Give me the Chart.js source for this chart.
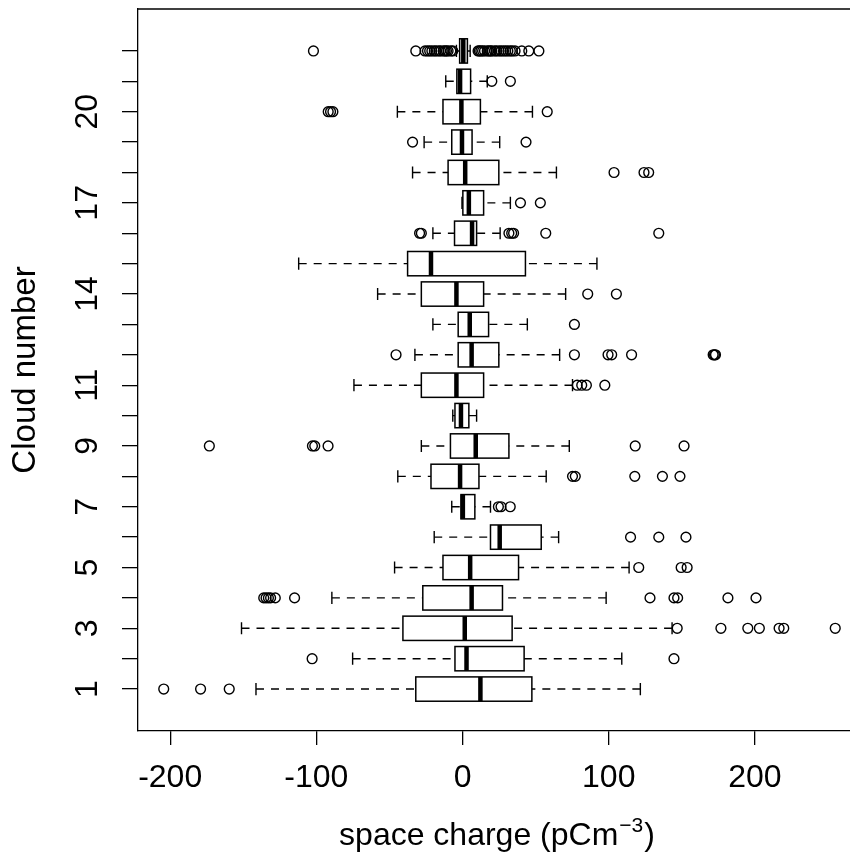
<!DOCTYPE html>
<html>
<head>
<meta charset="utf-8">
<script src="https://cdn.jsdelivr.net/npm/chart.js@4/dist/chart.umd.min.js"></script>
<style>html,body{margin:0;padding:0;background:#fff;}canvas{display:block;}</style>
</head>
<body>
<canvas id="c" width="850" height="861"></canvas>
<script>
// ---- data ----
const categories   = [1,2,3,4,5,6,7,8,9,10,11,12,13,14,15,16,17,18,19,20,21,22];
const labeledTicks = [1,3,5,7,9,11,14,17,20];
const xTickValues  = [-200,-100,0,100,200];
const lowerWhisker = [-141.3,-75.2,-151.2,-89.4,-46.5,-19.4,-7.4,-44.3,-28.2,-6.7,-74.3,-32.6,-20.3,-58.1,-112.1,-20.3,-0.4,-34.2,-26.3,-44.6,-11.5,-4.2];
const q1Values     = [-32.0,-5.2,-40.8,-27.2,-13.4,19.1,-1.1,-21.6,-8.3,-5.2,-28.2,-3.0,-3.0,-28.2,-37.6,-5.5,0.2,-9.9,-7.4,-13.4,-3.9,-2.0];
const medianValues = [12.2,2.7,1.5,6.2,5.2,25.4,0.2,-1.7,9.0,-1.1,-4.2,6.2,4.9,-4.2,-21.6,6.5,4.3,1.8,-0.4,-0.8,-1.7,0.5];
const q3Values     = [47.4,42.1,33.9,27.3,38.3,53.8,8.4,11.2,31.7,4.3,14.4,24.8,17.8,14.4,43.0,9.6,14.4,24.8,6.5,12.2,5.5,3.3];
const upperWhisker = [121.6,108.9,143.3,98.2,113.9,65.7,19.1,57.2,73.0,9.6,75.2,66.4,44.3,70.5,91.9,25.7,32.7,64.2,25.4,47.8,16.9,5.2];
const outliers = [
  [-204.4,-179.2,-159.6],
  [-102.9,144.6],
  [146.8,176.7,195.1,203.0,216.5,219.7,254.9],
  [-136.0,-134.4,-132.8,-131.3,-128.1,-114.9,128.2,144.6,147.1,181.5,200.7],
  [120.5,149.5,153.6],
  [114.9,134.2,152.8],
  [24.5,26.3,32.6],
  [75.2,77.1,117.8,136.7,148.7],
  [-173.2,-102.7,-101.1,-92.0,118.1,151.5],
  [],
  [78.4,81.5,84.7,97.3],
  [-45.5,76.5,99.5,102.0,115.6,171.4,172.3,173.0],
  [76.5],
  [85.6,105.2],
  [],
  [-29.4,-28.2,31.7,33.6,34.9,56.9,134.2],
  [39.6,53.2],
  [103.6,124.1,127.3],
  [-34.2,43.4],
  [-91.9,-90.3,-88.7,57.9],
  [20.0,32.7],
  [-102.0,-32.0,-25.7,-24.0,-22.5,-21.0,-19.3,-18.0,-16.2,-15.0,-13.1,-12.0,-11.0,-9.9,-8.0,-6.7,
   10.6,11.5,12.5,13.7,15.0,16.9,18.0,19.2,20.0,22.0,23.2,25.0,26.4,28.0,29.5,31.0,32.7,34.0,35.9,40.5,45.3,52.2]
];
const xTitleMain = 'space charge (pCm';
const xTitleSup  = '\u22123';
const xTitleEnd  = ')';
const yTitle     = 'Cloud number';

// ---- chart ----
const FONT = "'Liberation Sans', Arial, Helvetica, sans-serif";
const outlierPoints = [];
categories.forEach((c, i) => outliers[i].forEach(v => outlierPoints.push({x: v, y: c})));

const boxPlugin = {
  id: 'boxes',
  beforeDatasetsDraw(chart) {
    const {ctx, scales: {x, y}} = chart;
    ctx.save();
    ctx.strokeStyle = '#000';
    categories.forEach((c, i) => {
      const yc = y.getPixelForValue(c);
      const yt = y.getPixelForValue(c + 0.4), yb = y.getPixelForValue(c - 0.4);
      const st = y.getPixelForValue(c + 0.2), sb = y.getPixelForValue(c - 0.2);
      const xl = x.getPixelForValue(lowerWhisker[i]);
      const x1 = x.getPixelForValue(q1Values[i]);
      const xm = x.getPixelForValue(medianValues[i]);
      const x3 = x.getPixelForValue(q3Values[i]);
      const xu = x.getPixelForValue(upperWhisker[i]);
      ctx.lineWidth = 1.4;
      ctx.setLineDash([8, 7]);
      ctx.beginPath();
      ctx.moveTo(xl, yc); ctx.lineTo(x1, yc);
      ctx.moveTo(xu, yc); ctx.lineTo(x3, yc);
      ctx.stroke();
      ctx.setLineDash([]);
      ctx.beginPath();
      ctx.moveTo(xl, st); ctx.lineTo(xl, sb);
      ctx.moveTo(xu, st); ctx.lineTo(xu, sb);
      ctx.stroke();
      ctx.lineWidth = 1.5;
      ctx.strokeRect(x1, yt, x3 - x1, yb - yt);
      ctx.lineWidth = 4.5;
      ctx.beginPath();
      ctx.moveTo(xm, yt); ctx.lineTo(xm, yb);
      ctx.stroke();
    });
    ctx.restore();
  },
  afterDraw(chart) {
    const {ctx, chartArea} = chart;
    ctx.save();
    ctx.strokeStyle = '#000';
    ctx.lineWidth = 1.3;
    ctx.beginPath();
    ctx.moveTo(chartArea.left, chartArea.top);
    ctx.lineTo(chart.width + 2, chartArea.top);
    ctx.stroke();
    // x-axis title with superscript
    ctx.fillStyle = '#000';
    ctx.textBaseline = 'alphabetic';
    const mainFont = '32px ' + FONT, supFont = '21px ' + FONT;
    ctx.font = mainFont; const w1 = ctx.measureText(xTitleMain).width; const w3 = ctx.measureText(xTitleEnd).width;
    ctx.font = supFont; const w2 = ctx.measureText(xTitleSup).width;
    const total = w1 + w2 + w3 + 2;
    let tx = 497 - total / 2;
    const base = 845;
    ctx.font = mainFont; ctx.textAlign = 'left';
    ctx.fillText(xTitleMain, tx, base); tx += w1 + 1;
    ctx.font = supFont; ctx.fillText(xTitleSup, tx, base - 13); tx += w2 + 1;
    ctx.font = mainFont; ctx.fillText(xTitleEnd, tx, base);
    ctx.restore();
  }
};

new Chart(document.getElementById('c'), {
  type: 'scatter',
  data: {
    datasets: [{
      data: outlierPoints,
      pointStyle: 'circle',
      pointRadius: 4.9,
      pointHoverRadius: 4.9,
      pointBorderWidth: 1.4,
      pointBorderColor: '#000',
      pointBackgroundColor: 'rgba(0,0,0,0)',
      showLine: false
    }]
  },
  options: {
    responsive: false,
    animation: false,
    events: [],
    layout: {autoPadding: false, padding: {top: 9, left: 0, right: 0, bottom: 0}},
    plugins: {legend: {display: false}, tooltip: {enabled: false}},
    scales: {
      x: {
        type: 'linear', position: 'bottom', min: -222, max: 265,
        afterBuildTicks: s => { s.ticks = xTickValues.map(v => ({value: v})); },
        afterFit: s => { s.height = 130; s.paddingLeft = 0; s.paddingRight = 0; },
        grid: {display: true, drawOnChartArea: false, drawTicks: true, tickLength: 14, color: '#000', lineWidth: 1.3},
        border: {display: true, color: '#000', width: 1.3},
        ticks: {color: '#000', font: {size: 32, family: FONT}, padding: 14, maxRotation: 0, autoSkip: false,
                callback: v => String(v)}
      },
      y: {
        type: 'linear', position: 'left', min: -0.38, max: 23.38,
        afterBuildTicks: s => { s.ticks = categories.map(v => ({value: v})); },
        afterFit: s => { s.width = 138; s.paddingTop = 0; s.paddingBottom = 0; },
        grid: {display: true, drawOnChartArea: false, drawTicks: true, tickLength: 16, color: '#000', lineWidth: 1.3},
        border: {display: true, color: '#000', width: 1.3},
        ticks: {color: '#000', font: {size: 32, family: FONT}, padding: 16, autoSkip: false,
                minRotation: 90, maxRotation: 90, crossAlign: 'center',
                callback: v => labeledTicks.includes(v) ? String(v) : ''},
        title: {display: true, text: yTitle, color: '#000', font: {size: 33, family: FONT}, padding: {top: 6, bottom: 0}}
      }
    }
  },
  plugins: [boxPlugin]
});
</script>
</body>
</html>
